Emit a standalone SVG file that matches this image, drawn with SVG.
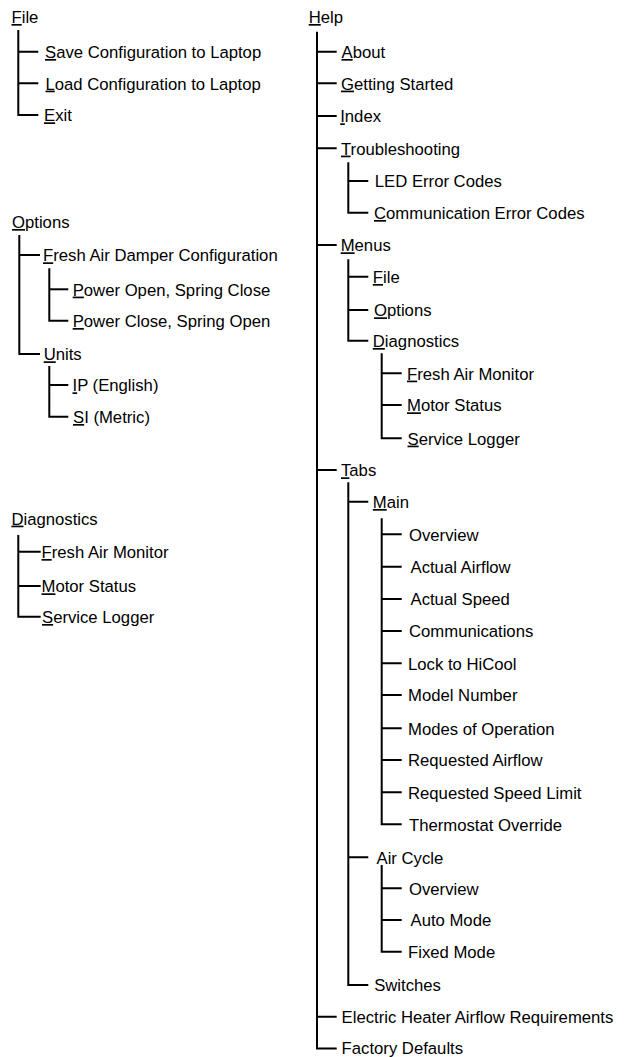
<svg xmlns="http://www.w3.org/2000/svg" width="634" height="1057" viewBox="0 0 634 1057">
<style>
text{font-family:"Liberation Sans",Arial,sans-serif;font-size:16.7px;fill:#000}
.u{text-decoration:underline;text-decoration-thickness:2px}
.c path{fill:none;stroke:#000;stroke-width:2;stroke-linejoin:miter;stroke-linecap:butt}
</style>
<rect width="634" height="1057" fill="#fff"/>
<g class="c" id="connectors">
<path d="M18.3 30 V115 H38.3"/><path d="M18.3 51.7 H38.3 M18.3 83.3 H38.3"/>
<path d="M19.3 235 V354 H40"/><path d="M19.3 255 H40"/>
<path d="M49.3 268.3 V320.7 H68.3"/><path d="M49.3 289.3 H68.3"/>
<path d="M49.3 366 V416.7 H68.3"/><path d="M49.3 385 H68.3"/>
<path d="M18.3 535 V616.7 H40.7"/><path d="M18.3 551.7 H40.7 M18.3 586 H40.7"/>
<path d="M317 31.7 V1048.5 H336.7"/>
<path d="M317 51.7 H336.7 M317 83.3 H336.7 M317 116 H336.7 M317 148.3 H336.7 M317 245 H336.7 M317 470 H336.7 M317 1016.7 H336.7"/>
<path d="M348.3 162.3 V212.7 H368.3"/><path d="M348.3 181 H368.3"/>
<path d="M348.3 259.3 V340.7 H368.3"/><path d="M348.3 276.7 H368.3 M348.3 310 H368.3"/>
<path d="M381.7 353.3 V438.3 H401.7"/><path d="M381.7 373.3 H401.7 M381.7 405 H401.7"/>
<path d="M348.3 482.3 V985 H368.3"/><path d="M348.3 501.7 H368.3 M348.3 857.3 H368.3"/>
<path d="M381.7 518.3 V824.3 H401.7"/>
<path d="M381.7 534.3 H401.7 M381.7 566.7 H401.7 M381.7 599 H401.7 M381.7 631 H401.7 M381.7 663.3 H401.7 M381.7 695 H401.7 M381.7 728.3 H401.7 M381.7 760 H401.7 M381.7 792.3 H401.7"/>
<path d="M381.7 865 V951.7 H401.7"/><path d="M381.7 888.3 H401.7 M381.7 920 H401.7"/>
</g>
<g id="file"><text x="11.5" y="23"><tspan class="u">F</tspan>ile</text></g>
<g id="file-save"><text x="45" y="58"><tspan class="u">S</tspan>ave Configuration to Laptop</text></g>
<g id="file-load"><text x="45.5" y="89.6"><tspan class="u">L</tspan>oad Configuration to Laptop</text></g>
<g id="file-exit"><text x="44" y="121.3"><tspan class="u">E</tspan>xit</text></g>
<g id="options"><text x="12" y="228"><tspan class="u">O</tspan>ptions</text></g>
<g id="opt-fresh"><text x="43" y="261.3"><tspan class="u">F</tspan>resh Air Damper Configuration</text></g>
<g id="opt-open"><text x="72.7" y="295.6"><tspan class="u">P</tspan>ower Open, Spring Close</text></g>
<g id="opt-close"><text x="72.7" y="327"><tspan class="u">P</tspan>ower Close, Spring Open</text></g>
<g id="opt-units"><text x="43.7" y="360.3"><tspan class="u">U</tspan>nits</text></g>
<g id="opt-ip"><text x="72.5" y="391.3"><tspan class="u">I</tspan>P (English)</text></g>
<g id="opt-si"><text x="73" y="423"><tspan class="u">S</tspan>I (Metric)</text></g>
<g id="diagnostics"><text x="11.4" y="524.6"><tspan class="u">D</tspan>iagnostics</text></g>
<g id="diag-fresh"><text x="41.5" y="558"><tspan class="u">F</tspan>resh Air Monitor</text></g>
<g id="diag-motor"><text x="41.5" y="592.3"><tspan class="u">M</tspan>otor Status</text></g>
<g id="diag-service"><text x="42" y="623"><tspan class="u">S</tspan>ervice Logger</text></g>
<g id="help"><text x="308.7" y="23"><tspan class="u">H</tspan>elp</text></g>
<g id="help-about"><text x="341.5" y="58"><tspan class="u">A</tspan>bout</text></g>
<g id="help-getting"><text x="341" y="89.6"><tspan class="u">G</tspan>etting Started</text></g>
<g id="help-index"><text x="340.2" y="122.3"><tspan class="u">I</tspan>ndex</text></g>
<g id="help-trouble"><text x="341" y="154.6"><tspan class="u">T</tspan>roubleshooting</text></g>
<g id="trouble-led"><text x="374.8" y="187.3">LED Error Codes</text></g>
<g id="trouble-comm"><text x="374" y="219"><tspan class="u">C</tspan>ommunication Error Codes</text></g>
<g id="help-menus"><text x="340.7" y="251.3"><tspan class="u">M</tspan>enus</text></g>
<g id="menus-file"><text x="372.8" y="283"><tspan class="u">F</tspan>ile</text></g>
<g id="menus-options"><text x="374" y="316.3"><tspan class="u">O</tspan>ptions</text></g>
<g id="menus-diag"><text x="372.8" y="347"><tspan class="u">D</tspan>iagnostics</text></g>
<g id="mdiag-fresh"><text x="407" y="379.6"><tspan class="u">F</tspan>resh Air Monitor</text></g>
<g id="mdiag-motor"><text x="407" y="411.3"><tspan class="u">M</tspan>otor Status</text></g>
<g id="mdiag-service"><text x="407.5" y="444.6"><tspan class="u">S</tspan>ervice Logger</text></g>
<g id="help-tabs"><text x="341" y="476.3"><tspan class="u">T</tspan>abs</text></g>
<g id="tabs-main"><text x="372.8" y="508"><tspan class="u">M</tspan>ain</text></g>
<g id="main-overview"><text x="409" y="540.6">Overview</text></g>
<g id="main-airflow"><text x="410.5" y="573">Actual Airflow</text></g>
<g id="main-speed"><text x="410.5" y="605.3">Actual Speed</text></g>
<g id="main-comm"><text x="409" y="637.3">Communications</text></g>
<g id="main-lock"><text x="408" y="669.6">Lock to HiCool</text></g>
<g id="main-model"><text x="408" y="701.3">Model Number</text></g>
<g id="main-modes"><text x="408" y="734.6">Modes of Operation</text></g>
<g id="main-reqair"><text x="408" y="766.3">Requested Airflow</text></g>
<g id="main-reqspeed"><text x="408" y="798.6">Requested Speed Limit</text></g>
<g id="main-thermo"><text x="409" y="830.6">Thermostat Override</text></g>
<g id="tabs-aircycle"><text x="376.5" y="863.6">Air Cycle</text></g>
<g id="ac-overview"><text x="409" y="894.6">Overview</text></g>
<g id="ac-auto"><text x="410.5" y="926.3">Auto Mode</text></g>
<g id="ac-fixed"><text x="408" y="958">Fixed Mode</text></g>
<g id="tabs-switches"><text x="374.2" y="991.3">Switches</text></g>
<g id="help-heater"><text x="341.6" y="1023">Electric Heater Airflow Requirements</text></g>
<g id="help-factory"><text x="341.6" y="1054">Factory Defaults</text></g>
</svg>
